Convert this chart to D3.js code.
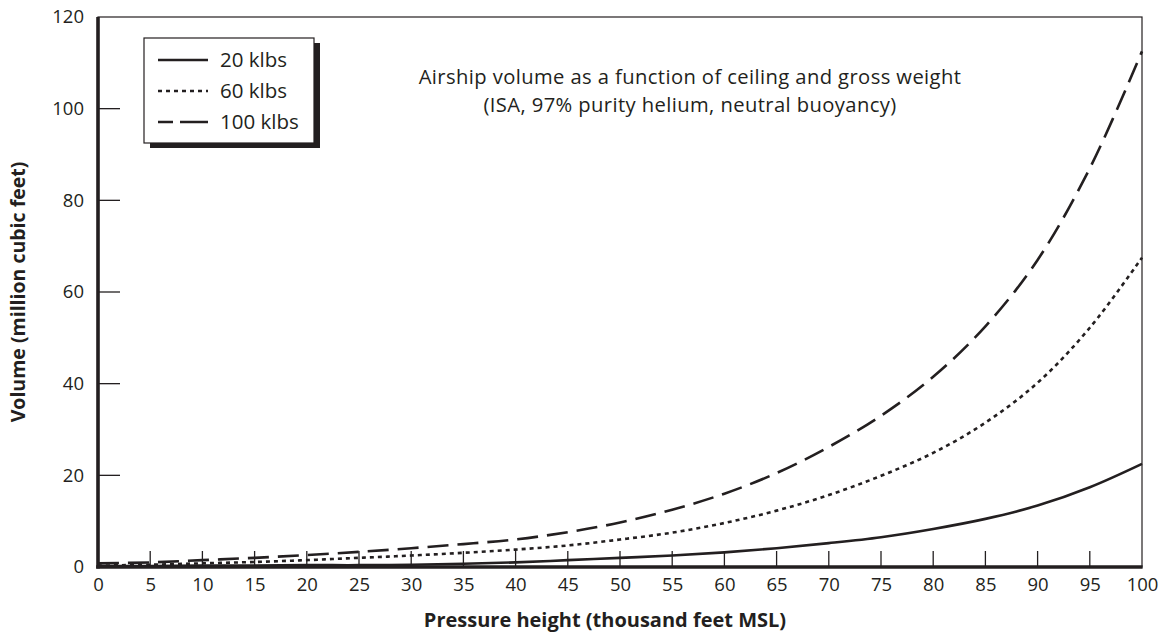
<!DOCTYPE html>
<html>
<head>
<meta charset="utf-8">
<script src="https://cdn.jsdelivr.net/npm/d3@7"></script>
<style>
  html, body { margin: 0; padding: 0; background: #fff; }
  svg { display: block; font-family: "Open Sans", "Noto Sans", sans-serif; }
</style>
</head>
<body>
<svg id="chart" width="1162" height="635"></svg>
<script>
// ---- data ----
const heights = [0,5,10,15,20,25,30,35,40,45,50,55,60,65,70,75,80,85,90,95,100];
const vol20  = [0.2,0.2,0.3,0.3,0.4,0.4,0.5,0.7,1.0,1.5,2.0,2.5,3.2,4.1,5.2,6.5,8.3,10.5,13.4,17.4,22.5];
const vol60  = [0.3,0.5,0.8,1.1,1.5,2.0,2.5,3.1,3.8,4.7,6.0,7.5,9.6,12.3,15.7,19.9,24.9,31.5,40.2,52.2,67.5];
const vol100 = [0.8,1.0,1.5,2.0,2.6,3.3,4.1,5.0,6.0,7.6,9.7,12.5,16.0,20.5,26.2,33.0,41.5,52.5,67.0,87.0,112.5];
const seriesNames = ["20 klbs", "60 klbs", "100 klbs"];
const xTicks = [0,5,10,15,20,25,30,35,40,45,50,55,60,65,70,75,80,85,90,95,100];
const yTicks = [0,20,40,60,80,100,120];
const titleLines = ["Airship volume as a function of ceiling and gross weight",
                    "(ISA, 97% purity helium, neutral buoyancy)"];
const xTitle = "Pressure height (thousand feet MSL)";
const yTitle = "Volume (million cubic feet)";

const ink = "#231f20";
const svg = d3.select("#chart");
const margin = {left: 98, right: 20, top: 17, bottom: 68};
const W = 1162, H = 635;
const x = d3.scaleLinear().domain([0, 100]).range([margin.left, W - margin.right]);
const y = d3.scaleLinear().domain([0, 120]).range([H - margin.bottom, margin.top]);

// frame (top and right thin)
svg.append("rect")
  .attr("x", x(0)).attr("y", y(120))
  .attr("width", x(100) - x(0)).attr("height", y(0) - y(120))
  .attr("fill", "none").attr("stroke", ink).attr("stroke-width", 1.2);

// curves
const styles = [
  {data: vol20, dash: null},
  {data: vol60, dash: "4,4"},
  {data: vol100, dash: "21,9"}
];
const line = d3.line().x((d, i) => x(heights[i])).y(d => y(d)).curve(d3.curveCatmullRom.alpha(0.5));
styles.forEach(s => {
  svg.append("path")
    .datum(s.data)
    .attr("d", line)
    .attr("fill", "none")
    .attr("stroke", ink)
    .attr("stroke-width", 2.6)
    .attr("stroke-dasharray", s.dash);
});

// x axis: ticks inward
const xAxis = d3.axisBottom(x).tickValues(xTicks).tickSize(0).tickPadding(11).tickFormat(d3.format("d"));
const gx = svg.append("g").attr("transform", `translate(0,${y(0)})`).call(xAxis);
gx.select(".domain").remove();
gx.selectAll("text").attr("font-size", 18.5).attr("fill", ink).attr("font-family", "Open Sans");
svg.append("g").selectAll("line").data(xTicks.filter(d => d > 0 && d < 100)).join("line")
  .attr("x1", d => x(d)).attr("x2", d => x(d))
  .attr("y1", y(0)).attr("y2", y(0) - 16)
  .attr("stroke", ink).attr("stroke-width", 1.3);

// y axis: ticks inward
const yAxis = d3.axisLeft(y).tickValues(yTicks).tickSize(0).tickPadding(14).tickFormat(d3.format("d"));
const gy = svg.append("g").attr("transform", `translate(${x(0)},0)`).call(yAxis);
gy.select(".domain").remove();
gy.selectAll("text").attr("font-size", 18.5).attr("fill", ink).attr("font-family", "Open Sans");
svg.append("g").selectAll("line").data(yTicks.filter(d => d > 0 && d < 120)).join("line")
  .attr("x1", x(0)).attr("x2", x(0) + 22)
  .attr("y1", d => y(d)).attr("y2", d => y(d))
  .attr("stroke", ink).attr("stroke-width", 1.3);

// thick axis lines
svg.append("line").attr("x1", x(0)).attr("x2", x(0)).attr("y1", y(120)).attr("y2", y(0) + 1.5)
  .attr("stroke", ink).attr("stroke-width", 3.6);
svg.append("line").attr("x1", x(0) - 1.8).attr("x2", x(100) + 0.6).attr("y1", y(0)).attr("y2", y(0))
  .attr("stroke", ink).attr("stroke-width", 3.4);

// title (two separate lines)
svg.append("g").selectAll("text").data(titleLines).join("text")
  .attr("x", 690).attr("y", (d, i) => 84 + i * 27.8)
  .attr("text-anchor", "middle").attr("font-size", 20.2).attr("letter-spacing", 0.4).attr("fill", ink)
  .text(d => d);

// axis titles
svg.append("text")
  .attr("x", 605).attr("y", 627)
  .attr("text-anchor", "middle").attr("font-size", 20).attr("font-weight", "bold").attr("fill", ink)
  .text(xTitle);
svg.append("text")
  .attr("transform", `translate(25,${(y(0) + y(120)) / 2}) rotate(-90)`)
  .attr("text-anchor", "middle").attr("font-size", 19.5).attr("font-weight", "bold").attr("fill", ink)
  .text(yTitle);

// legend
const lg = svg.append("g");
const lx = 144, ly = 38, lw = 170, lh = 105;
lg.append("rect").attr("x", lx + 6).attr("y", ly + 5).attr("width", lw).attr("height", lh).attr("fill", ink);
lg.append("rect").attr("x", lx).attr("y", ly).attr("width", lw).attr("height", lh)
  .attr("fill", "#fff").attr("stroke", ink).attr("stroke-width", 1.2);
const legendDash = [null, "4,4", "15,7,28,0"];
seriesNames.forEach((name, i) => {
  const cy = ly + 22 + i * 31;
  lg.append("line").attr("x1", 158).attr("x2", 208).attr("y1", cy).attr("y2", cy)
    .attr("stroke", ink).attr("stroke-width", 2.6).attr("stroke-dasharray", legendDash[i]);
  lg.append("text").attr("x", 220).attr("y", cy + 7).attr("font-size", 20.5).attr("fill", ink).text(name);
});
</script>
</body>
</html>
